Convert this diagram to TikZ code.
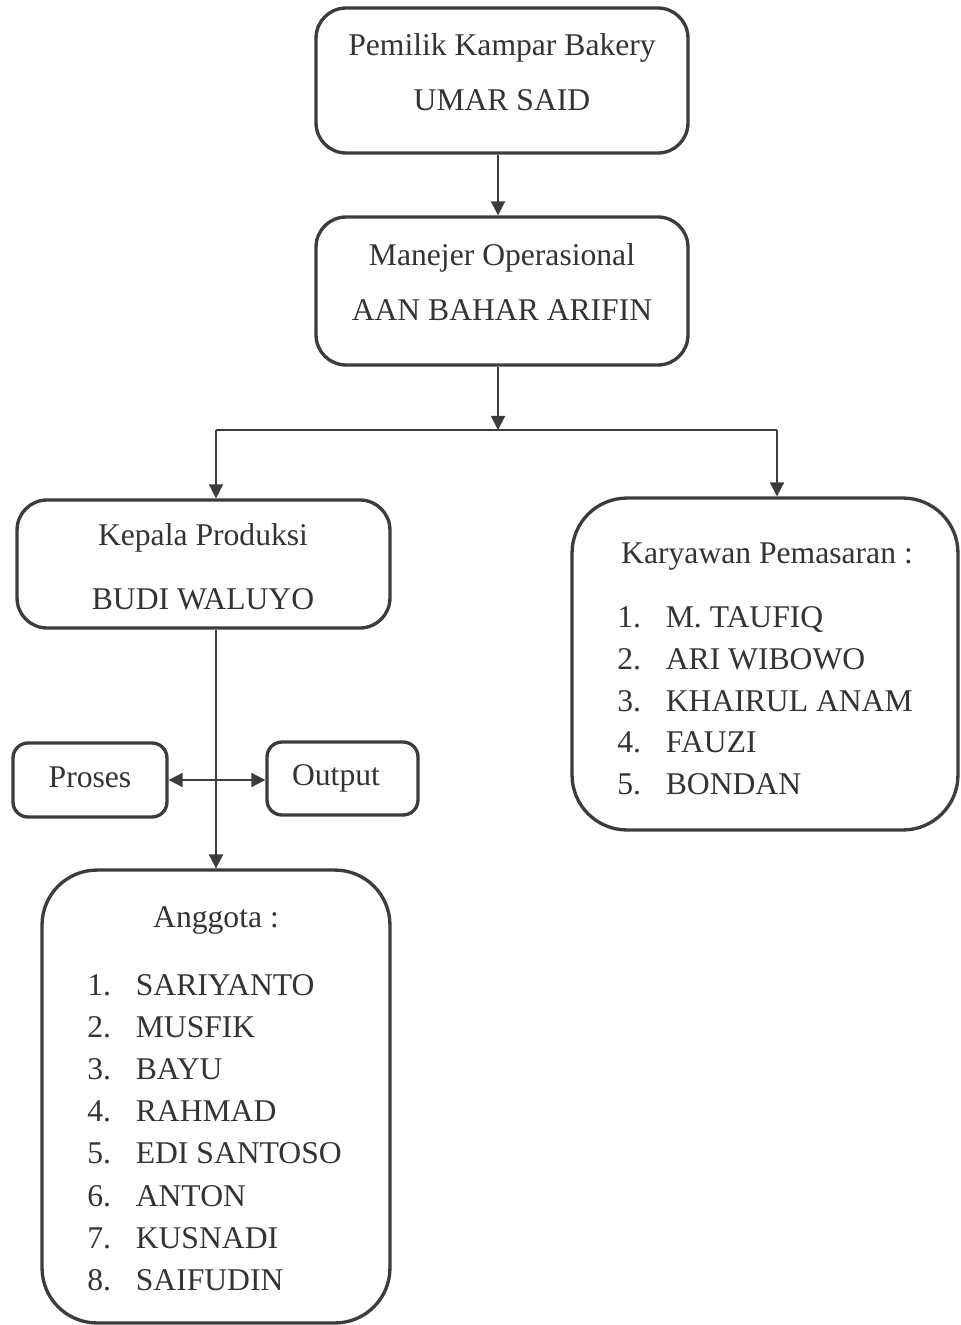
\documentclass[tikz,border=0pt]{standalone}
\usepackage{fontspec}
\setmainfont{Liberation Serif}
\usepackage{tikz}
\usetikzlibrary{positioning,arrows.meta}

\definecolor{ink}{HTML}{3C3C3C}
\definecolor{txt}{HTML}{333333}

\tikzset{
    box/.style={draw=ink, line width=1.9pt, rounded corners=0.6cm, inner sep=0pt},
    smallbox/.style={box, rounded corners=0.3cm},
    bigbox/.style={box, rounded corners=1.1cm},
    lbl/.style={text=txt, font=\fontsize{18}{21.6}\selectfont, inner sep=0pt, anchor=base},
    item/.style={lbl, anchor=base west},
    link/.style={draw=ink, line width=1.1pt},
    arr/.style={link, -{Triangle[length=8pt,width=8pt]}},
    dblarr/.style={link, {Triangle[length=8pt,width=8pt]}-{Triangle[length=8pt,width=8pt]}}
}
\newcommand{\num}[1]{\makebox[0.97cm][l]{#1}}

\begin{document}
\begin{tikzpicture}[x=0.02cm, y=-0.02cm]
    \useasboundingbox (0,0) rectangle (960,1325);

    \node[box, minimum width=7.44cm, minimum height=2.90cm] (owner) at (502,80.5) {};
    \node[lbl] (ownerT) at (502,55) {Pemilik Kampar Bakery};
    \node[lbl] (ownerN) at (502,110) {UMAR SAID};

    \node[box, minimum width=7.44cm, minimum height=2.96cm] (manager) at (502,291) {};
    \node[lbl] (managerT) at (502,265) {Manejer Operasional};
    \node[lbl] (managerN) at (502,320) {AAN BAHAR ARIFIN};

    \node[box, minimum width=7.46cm, minimum height=2.56cm] (headprod) at (203.5,564) {};
    \node[lbl] (headprodT) at (203,545) {Kepala Produksi};
    \node[lbl] (headprodN) at (203,609) {BUDI WALUYO};

    \node[bigbox, minimum width=7.72cm, minimum height=6.64cm] (marketing) at (765,664) {};
    \node[lbl] (marketingT) at (767,563) {Karyawan Pemasaran :};
    \node[item] (mk1) at (617,627) {\num{1.}M. TAUFIQ};
    \node[item] (mk2) at (617,669) {\num{2.}ARI WIBOWO};
    \node[item] (mk3) at (617,711) {\num{3.}KHAIRUL ANAM};
    \node[item] (mk4) at (617,752) {\num{4.}FAUZI};
    \node[item] (mk5) at (617,794) {\num{5.}BONDAN};

    \node[smallbox, minimum width=3.08cm, minimum height=1.48cm] (proses) at (90,780) {};
    \node[lbl] (prosesT) at (90,787) {Proses};
    \node[smallbox, minimum width=3.02cm, minimum height=1.46cm] (output) at (342.5,778.5) {};
    \node[lbl] (outputT) at (336,785) {Output};

    \node[bigbox, minimum width=6.96cm, minimum height=9.06cm] (members) at (216,1096.5) {};
    \node[lbl] (membersT) at (216,927) {Anggota :};
    \node[item] (mb1) at (87,995) {\num{1.}SARIYANTO};
    \node[item] (mb2) at (87,1037) {\num{2.}MUSFIK};
    \node[item] (mb3) at (87,1079) {\num{3.}BAYU};
    \node[item] (mb4) at (87,1121) {\num{4.}RAHMAD};
    \node[item] (mb5) at (87,1163) {\num{5.}EDI SANTOSO};
    \node[item] (mb6) at (87,1206) {\num{6.}ANTON};
    \node[item] (mb7) at (87,1248) {\num{7.}KUSNADI};
    \node[item] (mb8) at (87,1290) {\num{8.}SAIFUDIN};

    \coordinate (split) at (498,430);
    \coordinate (splitL) at (216,430);
    \coordinate (splitR) at (777,430);

    \draw[arr] (owner.south -| split) -- (manager.north -| split);
    \draw[arr] (manager.south -| split) -- (split);
    \draw[link] (splitL) -- (splitR);
    \draw[arr] (splitL) -- (splitL |- headprod.north);
    \draw[arr] (splitR) -- (splitR |- marketing.north);
    \draw[arr] (splitL |- headprod.south) -- (members.north);
    \draw[dblarr] (proses.east) -- (proses.east -| output.west);
\end{tikzpicture}
\end{document}
